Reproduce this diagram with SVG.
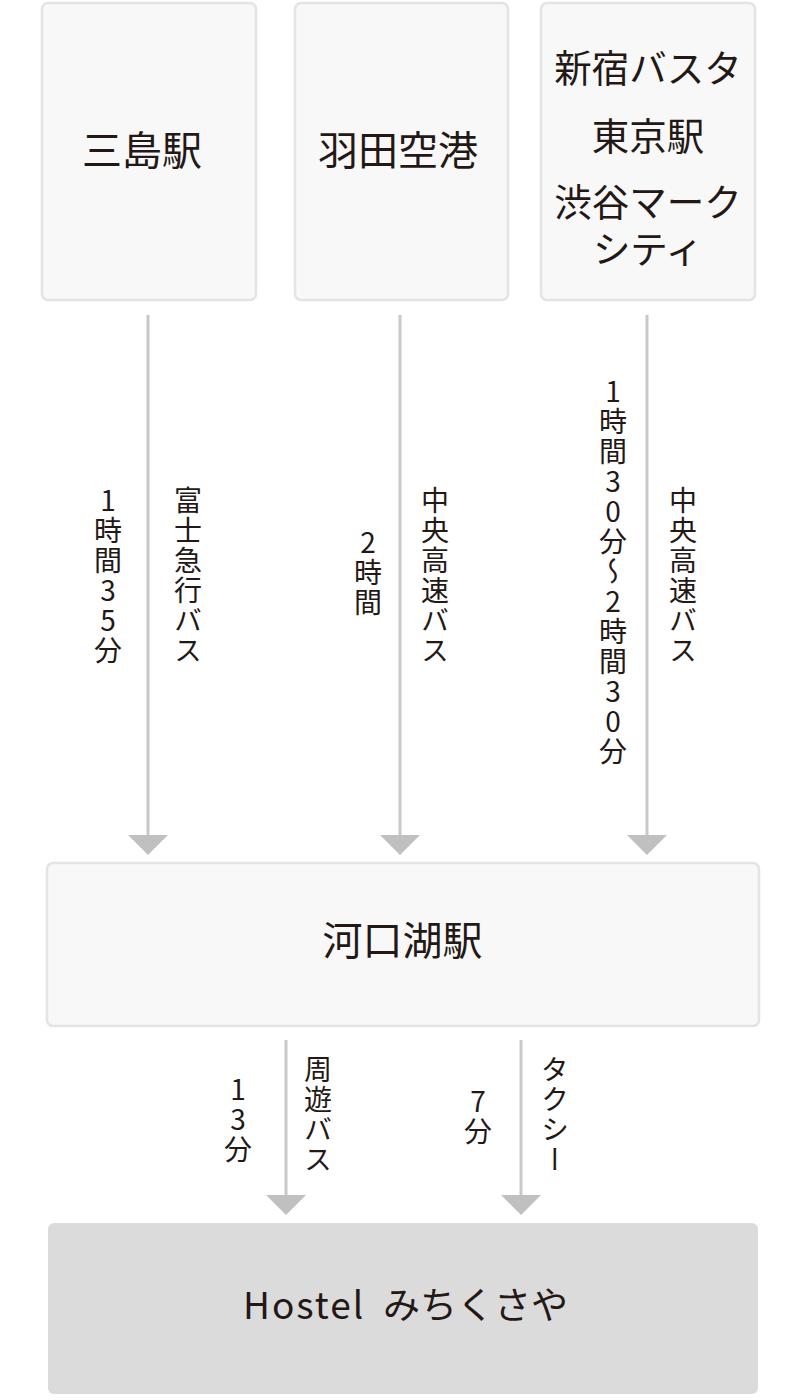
<svg xmlns="http://www.w3.org/2000/svg" width="800" height="1400" viewBox="0 0 800 1400">
<style>
.box{fill:#f8f8f8;stroke:#e4e4e4;stroke-width:2.5}
.dest{fill:#dbdbdb}
.t{font-family:"Noto Sans CJK JP","Noto Sans",sans-serif;fill:#231815;text-anchor:middle;dominant-baseline:central}
.big{font-size:40px}
.mid{font-size:37.5px}
.v{font-size:28px;writing-mode:vertical-rl;text-orientation:upright;letter-spacing:2px}
.ln{stroke:#c8c8c8;stroke-width:3;fill:none}
.hd{fill:#c0c0c0}
</style>
<rect width="800" height="1400" fill="#ffffff"/>
<g id="node-mishima">
<rect class="box" x="42" y="3" width="214" height="297" rx="6"/>
<text class="t big" x="142" y="148">三島駅</text>
</g>
<g id="node-haneda">
<rect class="box" x="295" y="3" width="213" height="297" rx="6"/>
<text class="t big" x="398" y="148">羽田空港</text>
</g>
<g id="node-shinjuku">
<rect class="box" x="541" y="3" width="214" height="297" rx="6"/>
<text class="t mid" x="648" y="65">新宿バスタ</text>
<text class="t mid" x="648" y="133">東京駅</text>
<text class="t mid" x="648" y="199">渋谷マーク<tspan x="648" dy="47">シティ</tspan></text>
</g>
<g id="node-kawaguchiko">
<rect class="box" x="47" y="863" width="712" height="163" rx="6"/>
<text class="t big" x="402.5" y="938">河口湖駅</text>
</g>
<g id="node-hostel">
<rect class="dest" x="48" y="1223" width="710" height="171" rx="6"/>
<text class="t" style="font-size:37px;text-anchor:start" x="243" y="1303"><tspan letter-spacing="2">Hostel</tspan> <tspan x="383">みちくさや</tspan></text>
</g>
<g id="connectors">
<line class="ln" x1="148" y1="315" x2="148" y2="836"/>
<polygon class="hd" points="128,835 168,835 148,855"/>
<line class="ln" x1="400" y1="315" x2="400" y2="836"/>
<polygon class="hd" points="380,835 420,835 400,855"/>
<line class="ln" x1="647" y1="315" x2="647" y2="836"/>
<polygon class="hd" points="627,835 667,835 647,855"/>
<line class="ln" x1="286" y1="1040" x2="286" y2="1196"/>
<polygon class="hd" points="266,1195 306,1195 286,1215"/>
<line class="ln" x1="521" y1="1040" x2="521" y2="1196"/>
<polygon class="hd" points="501,1195 541,1195 521,1215"/>
<text class="t v" x="108" y="576">1時間35分</text>
<text class="t v" x="188" y="576">富士急行バス</text>
<text class="t v" x="368" y="573">2時間</text>
<text class="t v" x="435" y="576">中央高速バス</text>
<text class="t v" x="613" y="572">1時間30分〜2時間30分</text>
<text class="t v" x="683" y="576">中央高速バス</text>
<text class="t v" x="238" y="1120">13分</text>
<text class="t v" x="318" y="1115">周遊バス</text>
<text class="t v" x="478" y="1117">7分</text>
<text class="t v" x="555" y="1115">タクシー</text>
</g>
</svg>
